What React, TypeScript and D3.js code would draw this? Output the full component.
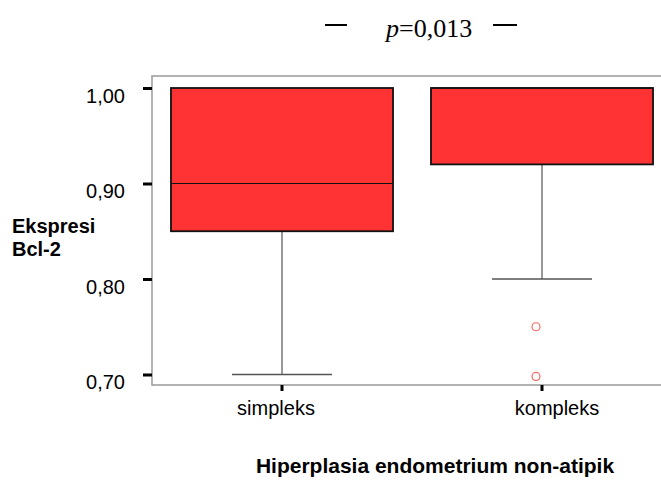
import { useRef, useEffect } from 'react';
import * as d3 from 'd3';

// categories and box stats
const groups = ['simpleks', 'kompleks'];
const lowerWhisker = [0.70, 0.80];
const q1 = [0.85, 0.92];
const median = [0.90, 1.00];
const q3 = [1.00, 1.00];
const upperWhisker = [1.00, 1.00];
const outliers = [[], [0.75, 0.698]];
const yTicks = [0.70, 0.80, 0.90, 1.00];
const labelShift = [-6, 15];

const SANS = 'Liberation Sans, Arial, sans-serif';

export default function App() {
  const svgRef = useRef(null);

  useEffect(() => {
    const width = 661;
    const margin = { top: 76, left: 152, bottom: 385 };

    const svg = d3.select(svgRef.current);
    svg.selectAll('*').remove();

    const xScale = d3.scaleBand()
      .domain(groups)
      .range([margin.left, margin.left + 520])
      .paddingInner(0.146)
      .paddingOuter(0.073);

    const yScale = d3.scaleLinear()
      .domain([0.70, 1.00])
      .range([374.5, 88]);

    // frame (left, top, bottom)
    svg.append('path')
      .attr('d', `M${width},${margin.top}H${margin.left}V${margin.bottom}H${width}`)
      .attr('fill', 'none')
      .attr('stroke', '#999')
      .attr('stroke-width', 1.5);

    const data = groups.map((g, i) => ({
      g, lo: lowerWhisker[i], q1: q1[i], med: median[i], q3: q3[i], hi: upperWhisker[i], out: outliers[i]
    }));

    const bw = xScale.bandwidth();
    const cx = d => xScale(d.g) + bw / 2;

    const box = svg.selectAll('g.box').data(data).enter().append('g').attr('class', 'box');

    // whiskers
    box.append('line')
      .attr('x1', cx).attr('x2', cx)
      .attr('y1', d => yScale(d.lo)).attr('y2', d => yScale(d.q1))
      .attr('stroke', '#333').attr('stroke-width', 1);
    box.append('line')
      .attr('x1', d => cx(d) - 50).attr('x2', d => cx(d) + 50)
      .attr('y1', d => yScale(d.lo)).attr('y2', d => yScale(d.lo))
      .attr('stroke', '#555').attr('stroke-width', 1.5);

    box.append('rect')
      .attr('x', d => xScale(d.g))
      .attr('y', d => yScale(d.q3))
      .attr('width', bw)
      .attr('height', d => yScale(d.q1) - yScale(d.q3))
      .attr('fill', '#ff3333')
      .attr('stroke', '#111')
      .attr('stroke-width', 1.8);

    box.append('line')
      .attr('x1', d => xScale(d.g)).attr('x2', d => xScale(d.g) + bw)
      .attr('y1', d => yScale(d.med)).attr('y2', d => yScale(d.med))
      .attr('stroke', '#111').attr('stroke-width', 1);

    box.selectAll('circle')
      .data(d => d.out.map(v => ({ v, x: cx(d) - 6 })))
      .enter().append('circle')
      .attr('cx', d => d.x)
      .attr('cy', d => yScale(d.v))
      .attr('r', 4)
      .attr('fill', 'none')
      .attr('stroke', '#f66')
      .attr('stroke-width', 1.2);

    // y axis
    const yAxis = svg.append('g')
      .attr('transform', `translate(${margin.left}, 0)`)
      .call(d3.axisLeft(yScale).tickValues(yTicks).tickSize(9).tickPadding(18)
        .tickFormat(d => d3.format('.2f')(d).replace('.', ',')));
    yAxis.select('.domain').remove();
    yAxis.selectAll('.tick line').attr('stroke', '#000').attr('stroke-width', 3);
    yAxis.selectAll('.tick text')
      .attr('font-family', SANS).attr('dy', '0.7em')
      .attr('font-size', 20).attr('fill', '#000');

    // x axis
    const xAxis = svg.append('g')
      .attr('transform', `translate(0, ${margin.bottom})`)
      .call(d3.axisBottom(xScale).tickSize(6).tickPadding(10));
    xAxis.select('.domain').remove();
    xAxis.selectAll('.tick line').attr('stroke', '#000').attr('stroke-width', 3);
    xAxis.selectAll('.tick text')
      .attr('font-family', SANS)
      .attr('dx', (d, i) => labelShift[i])
      .attr('font-size', 20).attr('fill', '#000');

    // axis titles
    svg.append('text')
      .attr('x', 435).attr('y', 473)
      .attr('text-anchor', 'middle')
      .attr('font-family', SANS)
      .attr('font-size', 21).attr('font-weight', 'bold')
      .text('Hiperplasia endometrium non-atipik');

    const yt = svg.append('text')
      .attr('font-family', SANS)
      .attr('font-size', 20).attr('font-weight', 'bold');
    yt.append('tspan').attr('x', 12).attr('y', 233).text('Ekspresi');
    yt.append('tspan').attr('x', 12).attr('y', 256).text('Bcl-2');

    // significance annotation
    svg.append('line').attr('x1', 325).attr('x2', 347).attr('y1', 25).attr('y2', 25)
      .attr('stroke', '#000').attr('stroke-width', 2);
    svg.append('line').attr('x1', 493).attr('x2', 517).attr('y1', 25).attr('y2', 25)
      .attr('stroke', '#000').attr('stroke-width', 2);
    const p = svg.append('text')
      .attr('x', 386).attr('y', 37)
      .attr('font-family', 'Liberation Serif, Times New Roman, serif')
      .attr('font-size', 26);
    p.append('tspan').attr('font-style', 'italic').text('p');
    p.append('tspan').text('=0,013');
  }, []);

  return (
    <svg ref={svgRef} width={661} height={481}
      style={{ position: 'absolute', left: 0, top: 0, background: '#fff' }} />
  );
}
